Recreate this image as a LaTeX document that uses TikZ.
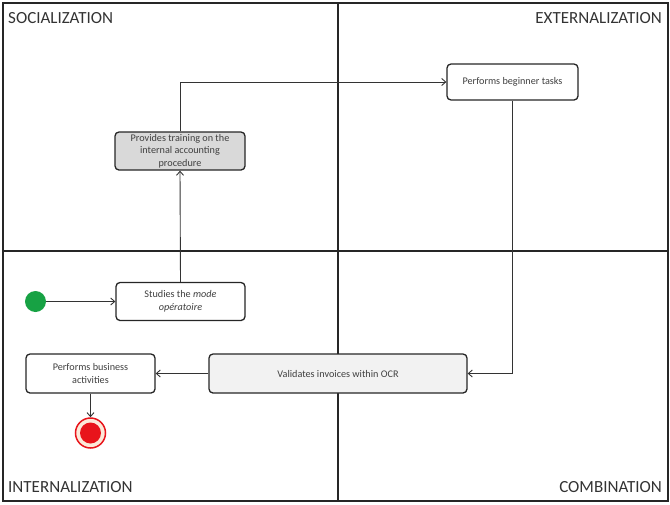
\documentclass[tikz,border=0pt]{standalone}
\usepackage{fontspec}
\setmainfont{Carlito}
\usetikzlibrary{arrows.meta}
\definecolor{txt}{HTML}{404040}
\definecolor{boxgray}{HTML}{D9D9D9}
\definecolor{boxlight}{HTML}{F2F2F2}
\definecolor{startgreen}{HTML}{17A244}
\definecolor{endred}{HTML}{E8141B}
\definecolor{endcream}{HTML}{FCE9D9}
\begin{document}
\begin{tikzpicture}[x=1pt,y=-1pt,
  act/.style={draw=black!85, line width=1.3pt, rounded corners=4pt, align=center,
    font=\fontsize{10.2}{12.5}\selectfont, text=txt, inner sep=0pt},
  flow/.style={draw=black!80, line width=0.9pt, -{Straight Barb[length=4pt,width=7pt]}},
  frame/.style={draw=black!85, line width=2.6pt},
  quad/.style={font=\fontsize{17}{19}\selectfont, text=black!80, inner sep=0pt}
]
\useasboundingbox (0,0) rectangle (670,504);
% frame
\draw[frame] (3,3) rectangle (668,501);
\draw[frame] (338,3) -- (338,501);
\draw[frame] (3,251) -- (668,251);
% quadrant labels
\node[quad, anchor=west] (soc) at (8,18) {SOCIALIZATION};
\node[quad, anchor=east] (ext) at (662,18) {EXTERNALIZATION};
\node[quad, anchor=west] (int) at (8,487) {INTERNALIZATION};
\node[quad, anchor=east] (com) at (662,487) {COMBINATION};
% activities
\node[act, fill=boxgray, minimum width=130pt, minimum height=38pt] (train) at (180,151)
  {Provides training on the\\internal accounting\\procedure};
\node[act, fill=white, minimum width=131pt, minimum height=36pt] (begin) at (512.5,82)
  {Performs beginner tasks};
\node[act, fill=white, minimum width=129pt, minimum height=38pt] (study) at (180.5,301.5)
  {Studies the \textit{mode}\\\textit{opératoire}};
\node[act, fill=white, minimum width=129pt, minimum height=39pt] (business) at (90.5,373.5)
  {Performs business\\activities};
\node[act, fill=boxlight, minimum width=258pt, minimum height=39pt] (validate) at (338,373.5)
  {Validates invoices within OCR};
% start / end
\node[circle, fill=startgreen, minimum size=21pt, inner sep=0pt] (start) at (35.5,301.5) {};
\node[circle, draw=endred, line width=1.5pt, fill=endcream, minimum size=30pt, inner sep=0pt] (stop) at (90.5,433) {};
\node[circle, fill=endred, minimum size=21pt, inner sep=0pt] (stopin) at (90.5,433) {};
% flows
\draw[flow] (start) -- (study);
\draw[flow] (study.north) -- (train.south);
\draw[flow] (train.north) |- (begin.west);
\draw[flow] (begin.south) |- (validate.east);
\draw[flow] (validate.west) -- (business.east);
\draw[flow] (business.south) -- (stop.north);
\end{tikzpicture}
\end{document}
